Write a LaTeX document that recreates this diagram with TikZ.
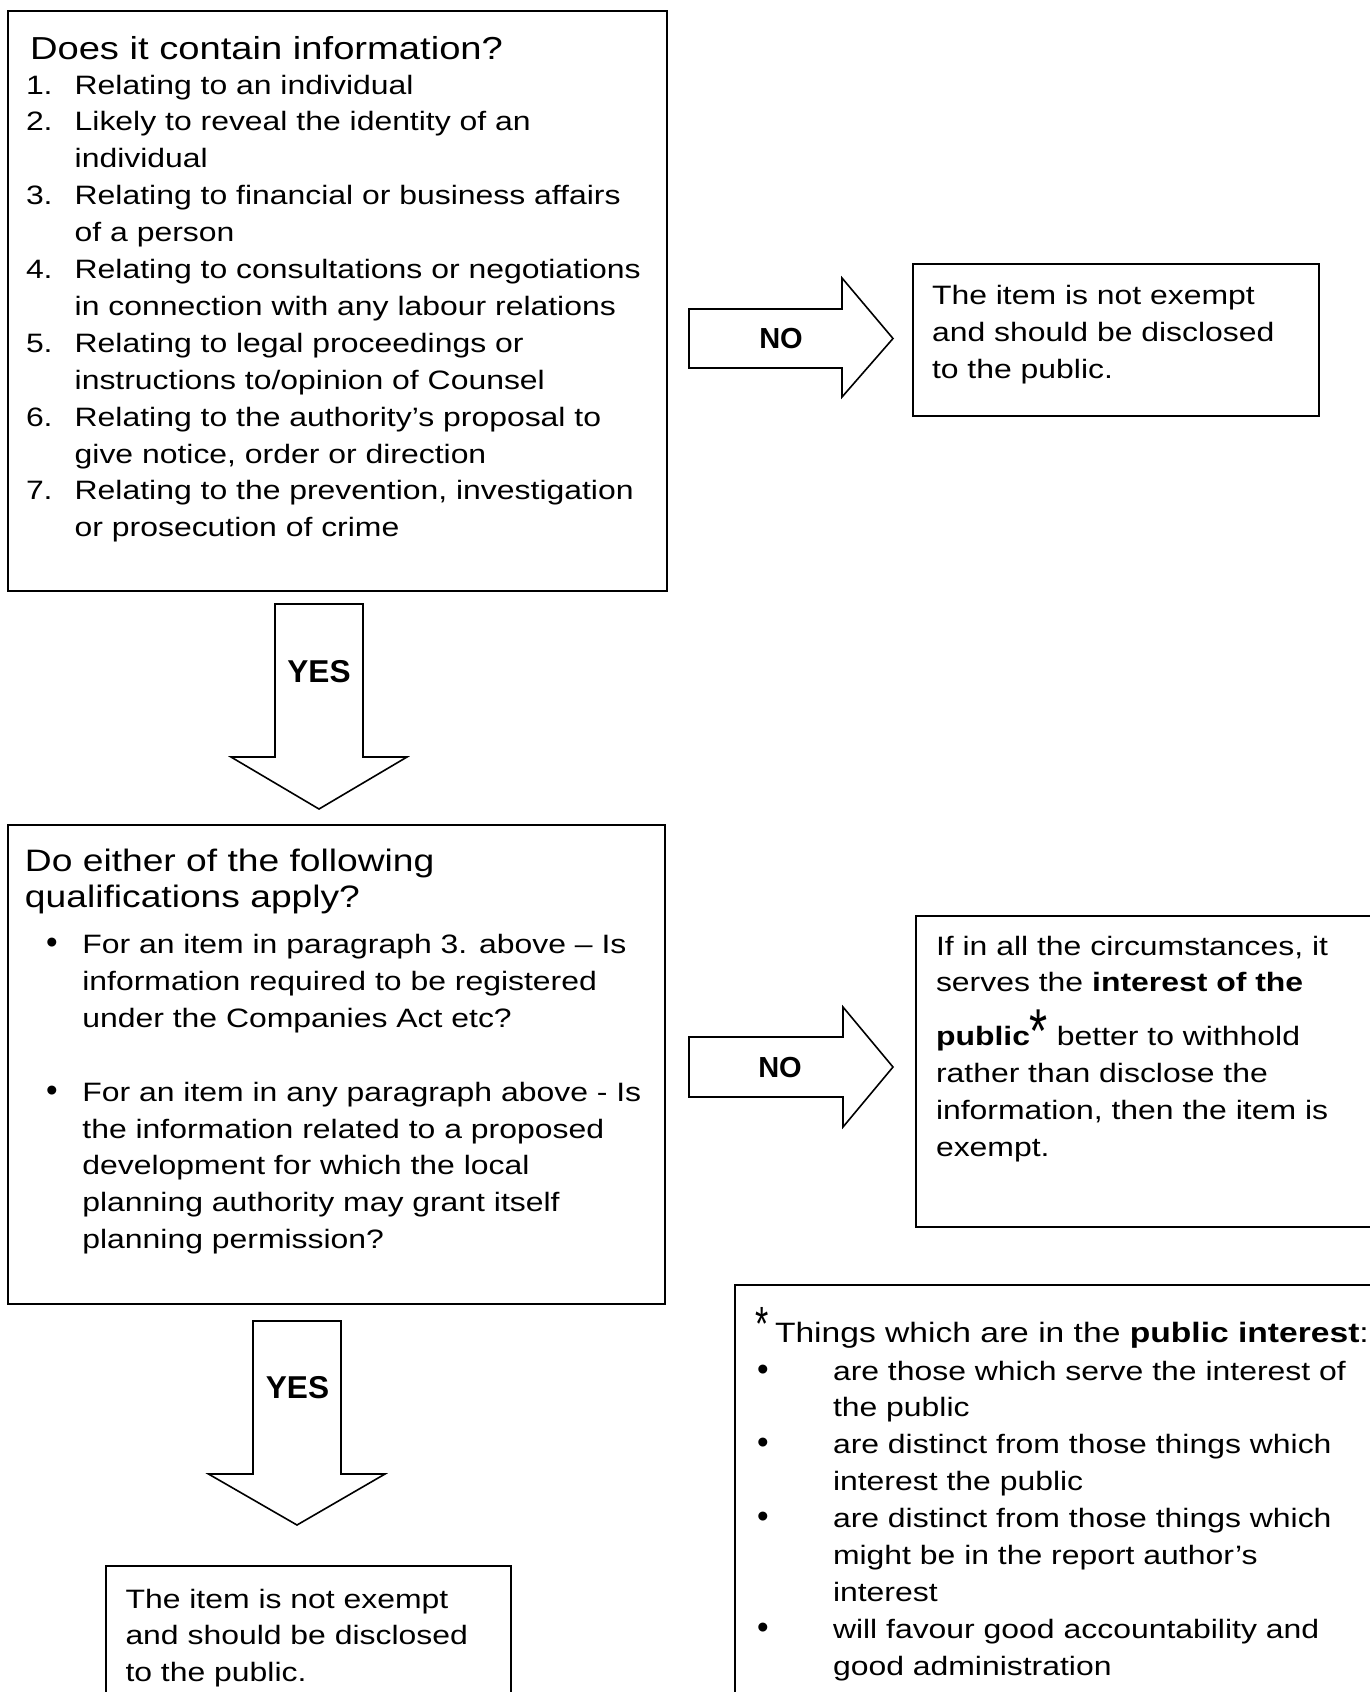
\documentclass[tikz,border=0pt]{standalone}
\usepackage{fontspec}
\usepackage{graphicx}
\setmainfont{Liberation Sans}[FakeStretch=1.2]
\newfontfamily\plainfont{Liberation Sans}
\newcommand\bodyfont{\fontsize{13.3}{18.45}\selectfont}
\newcommand\titlefont{\fontsize{15.5}{18.45}\selectfont}
\newcommand\bigtitlefont{\fontsize{15.9}{18.45}\selectfont}
\newcommand\notefont{\fontsize{14}{18.45}\selectfont}
\newcommand\bul{{\plainfont\fontsize{16.5}{16.5}\selectfont\textbullet}}
\newcommand\bigast{\smash{\raisebox{-3.7pt}{\scalebox{0.75}[1]{\plainfont\fontsize{31}{31}\selectfont *}}}}
\newcommand\smallast{\smash{\raisebox{1pt}{\scalebox{0.71}[1]{\plainfont\fontsize{24}{24}\selectfont *}}}}
\begin{document}
\begin{tikzpicture}[x=0.5pt,y=-0.5pt,
  box/.style={draw, line width=1pt, rectangle, inner sep=0pt, outer sep=0pt, anchor=north west},
  blockarrow/.style={draw, line width=0.8pt, line join=miter},
  txt/.style={anchor=base west, inner sep=0pt, outer sep=0pt, font=\bodyfont},
  nolbl/.style={inner sep=0pt, font=\plainfont\bfseries\fontsize{14.5}{14.5}\selectfont},
  yeslbl/.style={inner sep=0pt, font=\plainfont\bfseries\fontsize{15.8}{15.8}\selectfont}]
\useasboundingbox (0,0) rectangle (1370,1692);
\clip (0,0) rectangle (1370,1692);
\fill[white] (0,0) rectangle (1370,1692);

% boxes
\node[box, minimum width=329.5pt, minimum height=290pt] (b1) at (8,11) {};
\node[box, minimum width=203pt, minimum height=76pt] (b2) at (913,264) {};
\node[box, minimum width=328.5pt, minimum height=239.5pt] (b3) at (8,825) {};
\node[box, minimum width=250pt, minimum height=155.5pt] (b4) at (916,916) {};
\node[box, minimum width=202.5pt, minimum height=80pt] (b5) at (106,1566) {};
\node[box, minimum width=340pt, minimum height=215pt] (b6) at (735,1285) {};

% block arrows
\draw[blockarrow] (689,309) -- (842,309) -- (842,278) -- (893,338.5) -- (842,397) -- (842,368) -- (689,368) -- cycle;
\node[nolbl] (no1) at (781,338.5) {NO};
\draw[blockarrow] (689,1037) -- (843,1037) -- (843,1007) -- (893,1067) -- (843,1127) -- (843,1097) -- (689,1097) -- cycle;
\node[nolbl] (no2) at (780,1068) {NO};
\draw[blockarrow] (275,604) -- (363,604) -- (363,757) -- (407,757) -- (319,809) -- (231,757) -- (275,757) -- cycle;
\node[yeslbl] (yes1) at (319,671.5) {YES};
\draw[blockarrow] (253,1321) -- (341,1321) -- (341,1474) -- (385,1474) -- (297,1525) -- (208.5,1474) -- (253,1474) -- cycle;
\node[yeslbl] (yes2) at (297.5,1388) {YES};

% box 1 text
\node[txt, font=\bigtitlefont] (t1) at (30,59) {Does it contain information?};
\node[txt] (l1) at (26,94) {\begin{tabular}[t]{@{}p{24.35pt}@{}l@{}}
1.&Relating to an individual\\
2.&Likely to reveal the identity of an\\
&individual\\
3.&Relating to financial or business affairs\\
&of a person\\
4.&Relating to consultations or negotiations\\
&in connection with any labour relations\\
5.&Relating to legal proceedings or\\
&instructions to/opinion of Counsel\\
6.&Relating to the authority’s proposal to\\
&give notice, order or direction\\
7.&Relating to the prevention, investigation\\
&or prosecution of crime
\end{tabular}};

% box 2 text
\node[txt] (t2) at (932,304.5) {\begin{tabular}[t]{@{}l@{}}The item is not exempt\\and should be disclosed\\to the public.\end{tabular}};

% box 3 text
\node[txt, font=\titlefont] (t3) at (25,871) {\begin{tabular}[t]{@{}l@{}}Do either of the following\\qualifications apply?\end{tabular}};
\node[txt] (l3) at (21.6,953.5) {\begin{tabular}[t]{@{}l@{}l@{}}
\makebox[30.4pt]{\bul}&For an item in paragraph 3. above -- Is\\
&information required to be registered\\
&under the Companies Act etc?\\
&\\
\makebox[30.4pt]{\bul}&For an item in any paragraph above - Is\\
&the information related to a proposed\\
&development for which the local\\
&planning authority may grant itself\\
&planning permission?
\end{tabular}};

% box 4 text
\node[txt] (t4a) at (936,955) {If in all the circumstances, it};
\node[txt] (t4b) at (936,991) {serves the \textbf{interest of the}};
\node[txt] (t4c) at (936,1045) {\textbf{public}\bigast\ better to withhold};
\node[txt] (t4d) at (936,1082) {rather than disclose the};
\node[txt] (t4e) at (936,1119) {information, then the item is};
\node[txt] (t4f) at (936,1156) {exempt.};

% box 5 text
\node[txt] (t5) at (125.5,1608) {\begin{tabular}[t]{@{}l@{}}The item is not exempt\\and should be disclosed\\to the public.\end{tabular}};

% box 6 text
\node[txt] (a6) at (755,1342) {\smallast};
\node[txt, font=\notefont] (t6) at (775,1342) {Things which are in the \textbf{public interest}:};
\node[txt] (l6) at (693,1380) {\begin{tabular}[t]{@{}l@{}l@{}}
\makebox[70pt]{\bul}&are those which serve the interest of\\
&the public\\
\makebox[70pt]{\bul}&are distinct from those things which\\
&interest the public\\
\makebox[70pt]{\bul}&are distinct from those things which\\
&might be in the report author’s\\
&interest\\
\makebox[70pt]{\bul}&will favour good accountability and\\
&good administration
\end{tabular}};
\end{tikzpicture}
\end{document}
